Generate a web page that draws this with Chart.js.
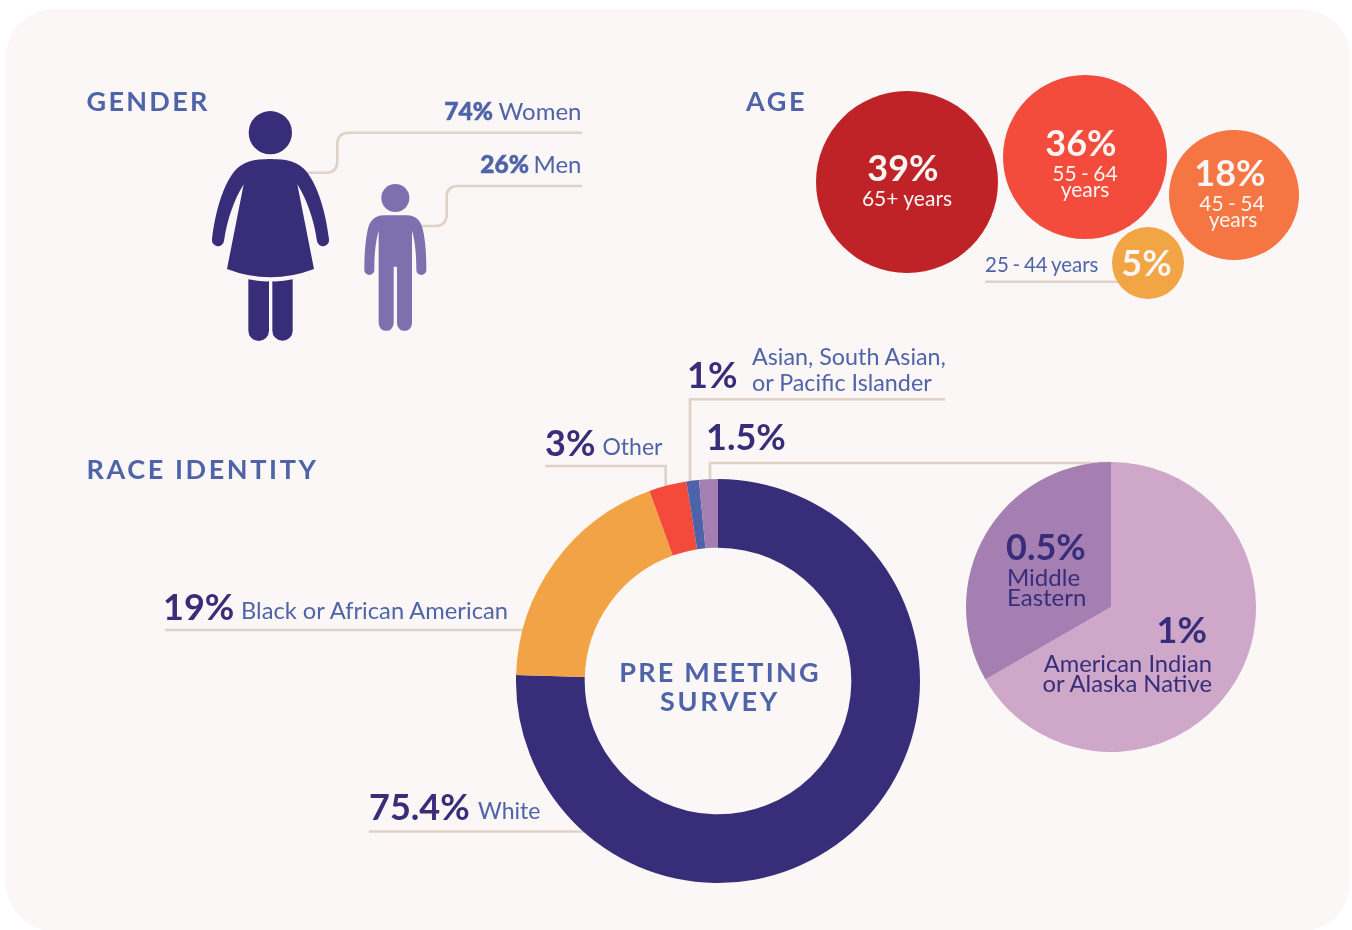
<!DOCTYPE html>
<html lang="en">
<head>
  <meta charset="UTF-8" />
  <title>Pre Meeting Survey</title>
  <script src="https://cdn.jsdelivr.net/npm/chart.js"></script>
  <style>
    body {
      margin: 0;
      background: #fff;
      font-family: Lato, sans-serif;
    }
    #page {
      position: relative;
      width: 1352px;
      height: 930px;
      overflow: hidden;
    }
    #card {
      position: absolute;
      left: 6px;
      top: 9px;
      width: 1344px;
      height: 922px;
      background: #fbf7f6;
      border-radius: 48px;
    }
    svg {
      position: absolute;
      left: 0;
      top: 0;
    }
    canvas {
      position: absolute;
      z-index: 2;
    }
    #leaders { z-index: 1; }
    #labels { z-index: 3; }
    #leaders path {
      fill: none;
      stroke: #e0d2c6;
      stroke-width: 2.6;
    }
    #genderChart { left: 200px; top: 100px; }
    #ageChart { left: 800px; top: 60px; }
    #raceChart { left: 516px; top: 479px; }
    #subChart { left: 966px; top: 462px; }
  </style>
</head>
<body>
<div id="page">
  <div id="card"></div>

  <svg id="leaders" width="1352" height="930">
    <path d="M307 172.7H326Q337.3 172.7 337.3 161V144Q337.3 132.7 349 132.7H582" />
    <path d="M421.7 226H435Q446.7 226 446.7 214V197Q446.7 186 458 186H582" />
    <path d="M985 281.7H1125" />
    <path d="M690 485V399.3H945" />
    <path d="M545 466H665.7V490" />
    <path d="M710 482V463H1112" />
    <path d="M165 630H525" />
    <path d="M369 831.5H590" />
  </svg>

  <canvas id="genderChart" width="240" height="250"></canvas>
  <canvas id="ageChart" width="520" height="250"></canvas>
  <canvas id="raceChart" width="404" height="404"></canvas>
  <canvas id="subChart" width="290" height="290"></canvas>

  <svg id="labels" width="1352" height="930"></svg>
</div>

<script>
  const genderLabels = ["Women", "Men"];
  const genderValues = [74, 26];

  const ageLabels = ["65+ years", "55 - 64", "45 - 54", "25 - 44 years"];
  const ageValues = [39, 36, 18, 5];
  // packed layout of the bubbles
  const ageX = [107, 285, 434, 348];
  const ageY = [122, 97, 135, 203];
  const ageR = [91, 82, 65, 36];

  const raceLabels = ["White", "Black or African American", "Other", "Asian, South Asian,", "or Pacific Islander"];
  const raceValues = [75.4, 19, 3, 1, 1.5];
  const raceColors = ["#382d79", "#f2a345", "#f34a3b", "#4d62a9", "#a57eb2"];

  const subLabels = ["American Indian", "or Alaska Native", "Middle", "Eastern"];
  const subValues = [1, 0.5];
  const subColors = ["#cea7c9", "#a57eb2"];

  const NAVY = "#382d79";
  const BLUE = "#4f63a8";
  const WHITE = "#fbf5f3";

  // ---- pictograms, used as point styles in the gender chart
  function makeIcon(w, h, originX, originY, color, paths) {
    const c = document.createElement("canvas");
    c.width = w;
    c.height = h;
    const g = c.getContext("2d");
    g.scale(1 / 3, 1 / 3);
    g.translate(-originX, -originY);
    g.fillStyle = color;
    paths.forEach(p => g.fill(new Path2D(p)));
    return c;
  }

  const womanIcon = makeIcon(124, 234, 54, 57, "#382d79", [
    "M306 128A65 65 0 1 1 176 128A65 65 0 1 1 306 128Z",
    "M241 207C290 207 325 215 350 245C385 290 408 370 417 448A18 18 0 0 1 381 453C373 395 352 330 322 283L372 537Q241 587 111 537L161 283C131 330 110 395 102 453A18 18 0 0 1 66 448C75 370 97 290 132 245C157 215 192 207 241 207Z",
    "M175 568Q206 575 237 574L237 722A31 31 0 0 1 175 722Z",
    "M247 574Q278 575 308 568L308 722A30.5 30.5 0 0 1 247 722Z"
  ]);

  const manIcon = makeIcon(68, 158, 513, 264, "#7d70ae", [
    "M658 324A42 42 0 1 1 574 324A42 42 0 1 1 658 324Z",
    "M582 376L650 376C680 376 695 395 700 425C706 455 709 490 709 540A15 15 0 0 1 679 540C679 500 676 455 666 422L666 700A22.5 22.5 0 0 1 621 700L621 530L611 530L611 700A22.5 22.5 0 0 1 566 700L566 422C556 455 553 500 553 540A15 15 0 0 1 523 540C523 490 526 455 532 425C537 395 552 376 582 376Z"
  ]);

  Chart.defaults.animation = false;
  Chart.defaults.responsive = false;
  Chart.defaults.plugins.legend.display = false;
  Chart.defaults.plugins.tooltip.enabled = false;

  function hiddenAxes(w, h) {
    return {
      x: { type: "linear", display: false, min: 0, max: w },
      y: { type: "linear", display: false, min: 0, max: h, reverse: true }
    };
  }

  new Chart(document.getElementById("genderChart"), {
    type: "scatter",
    data: {
      datasets: [{
        data: [{ x: 70, y: 126 }, { x: 195, y: 157 }],
        pointStyle: [womanIcon, manIcon]
      }]
    },
    options: { layout: { autoPadding: false }, scales: hiddenAxes(240, 250) }
  });

  new Chart(document.getElementById("ageChart"), {
    type: "bubble",
    data: {
      labels: ageLabels,
      datasets: [{
        data: ageValues.map((v, i) => ({ x: ageX[i], y: ageY[i], r: ageR[i] })),
        backgroundColor: ["#bf2327", "#f34b3c", "#f57543", "#f2a545"],
        borderWidth: 0
      }]
    },
    options: { layout: { autoPadding: false }, scales: hiddenAxes(520, 250) }
  });

  new Chart(document.getElementById("raceChart"), {
    type: "doughnut",
    data: {
      labels: raceLabels,
      datasets: [{ data: raceValues, backgroundColor: raceColors, borderWidth: 0 }]
    },
    options: { cutout: "66%" }
  });

  new Chart(document.getElementById("subChart"), {
    type: "pie",
    data: {
      labels: ["American Indian or Alaska Native", "Middle Eastern"],
      datasets: [{ data: subValues, backgroundColor: subColors, borderWidth: 0 }]
    }
  });

  // ---- text layer
  const labelsSvg = document.getElementById("labels");

  function label(text, x, y, size, weight, color, anchor, spacing, wordSpacing) {
    const t = document.createElementNS("http://www.w3.org/2000/svg", "text");
    t.textContent = text;
    t.setAttribute("x", x);
    t.setAttribute("y", y);
    t.setAttribute("font-size", size);
    t.setAttribute("font-weight", weight);
    t.setAttribute("fill", color);
    t.setAttribute("text-anchor", anchor || "start");
    t.setAttribute("font-family", "Lato, sans-serif");
    if (spacing) t.setAttribute("letter-spacing", spacing);
    if (wordSpacing) t.setAttribute("word-spacing", wordSpacing);
    labelsSvg.appendChild(t);
    return t;
  }

  // the gender percentages are heavier than the font's bold
  function heavy(t) {
    t.setAttribute("stroke", BLUE);
    t.setAttribute("stroke-width", 0.5);
  }

  label("GENDER", 86.5, 111, 27, 700, BLUE, "start", 2.3);
  label("AGE", 746, 111, 27, 700, BLUE, "start", 2.6);
  label("RACE IDENTITY", 86.5, 479, 27, 700, BLUE, "start", 2.6);

  label(genderLabels[0], 581.5, 120, 24, 400, BLUE, "end");
  heavy(label(genderValues[0] + "%", 493, 120, 24.5, 900, BLUE, "end"));
  label(genderLabels[1], 581.5, 173, 24, 400, BLUE, "end");
  heavy(label(genderValues[1] + "%", 529, 173, 24.5, 900, BLUE, "end"));

  label(ageValues[0] + "%", 903, 181, 36, 700, WHITE, "middle");
  label(ageLabels[0], 907, 206, 21, 400, WHITE, "middle");
  label(ageValues[1] + "%", 1081, 156, 36, 700, WHITE, "middle");
  label(ageLabels[1], 1085, 181, 21, 400, WHITE, "middle", 0, -1);
  label("years", 1085, 197, 21, 400, WHITE, "middle");
  label(ageValues[2] + "%", 1230, 186, 36, 700, WHITE, "middle");
  label(ageLabels[2], 1232, 211, 21, 400, WHITE, "middle", 0, -1);
  label("years", 1233, 227, 21, 400, WHITE, "middle");
  label(ageValues[3] + "%", 1146.5, 276, 36, 700, WHITE, "middle");
  label(ageLabels[3], 985, 272, 20.5, 400, BLUE, "start", 0, -1.5);

  label(raceValues[3] + "%", 687, 388, 36, 700, NAVY);
  label(raceLabels[3], 752, 365, 23.3, 400, BLUE);
  label(raceLabels[4], 752, 391, 23.3, 400, BLUE);
  label(raceValues[4] + "%", 706, 450, 36, 700, NAVY);
  label(raceValues[2] + "%", 545, 456, 36, 700, NAVY);
  label(raceLabels[2], 602.5, 455, 23, 400, BLUE);
  label(raceValues[1] + "%", 163, 620, 36, 700, NAVY);
  label(raceLabels[1], 241, 619, 23.7, 400, BLUE);
  label(raceValues[0] + "%", 369, 820, 36, 700, NAVY);
  label(raceLabels[0], 478, 819, 23, 400, BLUE);

  label("PRE MEETING", 720, 682, 27, 700, BLUE, "middle", 2.2);
  label("SURVEY", 720, 711, 27, 700, BLUE, "middle", 2.8);

  label(subValues[1] + "%", 1006, 560, 36, 700, NAVY);
  label(subLabels[2], 1007, 586, 24, 400, NAVY);
  label(subLabels[3], 1007, 606, 24, 400, NAVY);
  label(subValues[0] + "%", 1207, 643, 36, 700, NAVY, "end");
  label(subLabels[0], 1212, 672, 23.7, 400, NAVY, "end");
  label(subLabels[1], 1212, 692, 23.8, 400, NAVY, "end");
</script>
</body>
</html>
